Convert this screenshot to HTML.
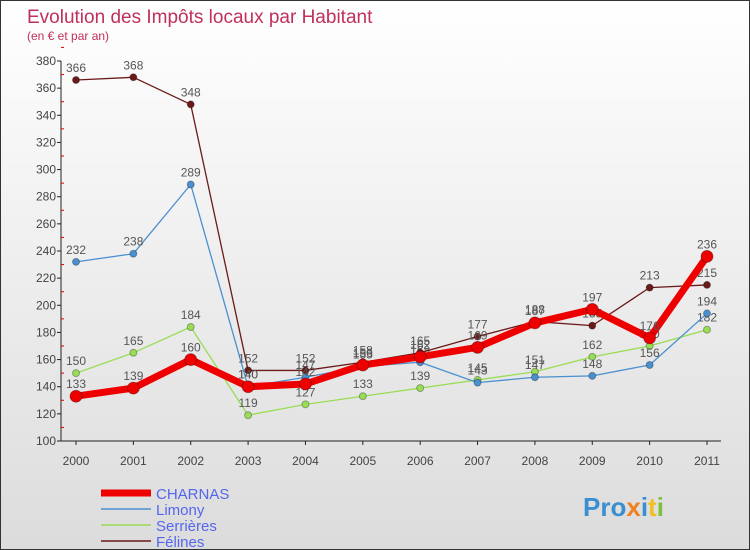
<!DOCTYPE html>
<html><head><meta charset="utf-8"><style>
body{margin:0}
#c{width:750px;height:550px;position:relative;overflow:hidden;font-family:"Liberation Sans",sans-serif;background:linear-gradient(#fff,#dcdcdc);border:1px solid #333;box-sizing:border-box}
</style></head><body>
<div id="c">
<svg id="s" width="750" height="550"></svg>
</div>
<script>
const years=["2000","2001","2002","2003","2004","2005","2006","2007","2008","2009","2010","2011"];
const yTicks=[100,120,140,160,180,200,220,240,260,280,300,320,340,360,380];
const charnas=[133,139,160,140,142,156,162,169,187,197,176,236];
const limony=[232,238,289,140,147,155,158,143,147,148,156,194];
const serrieres=[150,165,184,119,127,133,139,145,151,162,170,182];
const felines=[366,368,348,152,152,158,165,177,188,185,213,215];
const NS="http://www.w3.org/2000/svg";
const s=document.getElementById('s');
function X(i){return 75+i*(706-75)/11}
function Y(v){return 440-(v-100)*380/280}
function el(t,a,p){const e=document.createElementNS(NS,t);for(const k in a)e.setAttribute(k,a[k]);(p||s).appendChild(e);return e}
function txt(x,y,t,o){const e=el('text',Object.assign({x:x,y:y,'font-size':12,fill:'#444'},o||{}));e.textContent=t;return e}
let t=txt(26,22,"Evolution des Impôts locaux par Habitant",{'font-size':19,fill:'#c0305a'});


t=txt(26,39,"(en € et par an)",{'font-size':12,fill:'#c0305a'});


let ax=el('line',{x1:60,y1:60,x2:60,y2:440,stroke:'#222'});


ax=el('line',{x1:60,y1:440,x2:720,y2:440,stroke:'#222'});


yTicks.forEach(v=>{
 el('line',{x1:56,y1:Y(v),x2:60,y2:Y(v),stroke:'#222'});
 el('line',{x1:60,y1:Y(v+10),x2:63,y2:Y(v+10),stroke:'#d00'});
 const l=txt(55,Y(v)+4,v,{'text-anchor':'end'});
 
 
});
years.forEach((y,i)=>{
 el('line',{x1:X(i),y1:440,x2:X(i),y2:444,stroke:'#222'});
 const l=txt(X(i),464,y,{'text-anchor':'middle'});
 
 
});
function series(d,col,w,r,name,lo){
 const g=el('g',{});
 
 
 el('polyline',{points:d.map((v,i)=>X(i)+','+Y(v)).join(' '),fill:'none',stroke:col,'stroke-width':w,'stroke-linejoin':'round'},g);
 d.forEach((v,i)=>{
  const c=el('circle',{cx:X(i),cy:Y(v),r:r,fill:col,stroke:'rgba(0,0,0,0.3)'},g);
  
  
  txt(X(i),Y(v)-8,v,{'text-anchor':'middle',fill:'#555'});
 });
}
series(serrieres,'#99dd55',1.3,3.5,'serrieres');
series(limony,'#4a90d0',1.3,3.5,'limony');
series(felines,'#6b1a1a',1.3,3.5,'felines');
series(charnas,'#ee0000',7,6,'charnas');
const leg=[["CHARNAS",'#ee0000',7],["Limony",'#4a90d0',1.5],["Serrières",'#99dd55',1.5],["Félines",'#6b1a1a',1.5]];
leg.forEach((L,i)=>{
 const y=492+i*16;
 const g=el('g',{});
 
 
 el('line',{x1:100,y1:y,x2:150,y2:y,stroke:L[1],'stroke-width':L[2]},g);
 const tt=el('text',{x:155,y:y+6,'font-size':15,fill:'#5566ee'},g);tt.textContent=L[0];
});
const lg=el('text',{x:582,y:515,'font-size':26,'font-weight':'bold'});


[["Pro","#3a8fd0"],["x","#f08020"],["i","#3a8fd0"],["t","#f0c020"],["i","#7cc040"]].forEach(p=>{const sp=el('tspan',{fill:p[1]},lg);sp.textContent=p[0]});
</script>
</body></html>
